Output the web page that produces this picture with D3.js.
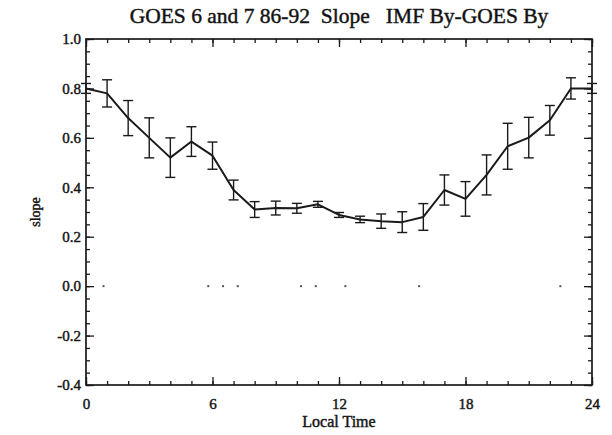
<!DOCTYPE html>
<html>
<head>
<meta charset="utf-8">
<script src="https://cdn.jsdelivr.net/npm/d3@7"></script>
<style>
  html, body { margin: 0; padding: 0; background: #fff; }
  svg { display: block; }
  text { font-family: "Liberation Serif", "DejaVu Serif", serif; fill: #111; }
</style>
</head>
<body>
<svg id="chart" width="612" height="435"></svg>
<script>
// Hourly slope of IMF By vs GOES By, with one-sigma error bars
const localTime = [0, 1, 2, 3, 4, 5, 6, 7, 8, 9, 10, 11, 12, 13, 14, 15, 16, 17, 18, 19, 20, 21, 22, 23, 24];
const slope = [0.80, 0.78, 0.68, 0.60, 0.52, 0.585, 0.528, 0.389, 0.31, 0.316, 0.315, 0.331, 0.288, 0.27, 0.263, 0.259, 0.28, 0.389, 0.353, 0.45, 0.566, 0.601, 0.671, 0.80, 0.80];
const slopeErr = [0.02, 0.055, 0.071, 0.081, 0.08, 0.06, 0.055, 0.04, 0.032, 0.028, 0.02, 0.012, 0.01, 0.013, 0.029, 0.042, 0.054, 0.061, 0.07, 0.081, 0.093, 0.082, 0.06, 0.043, 0.02];

// Isolated points plotted at zero slope
const zeroTimes = [0.83, 5.8, 6.5, 7.2, 10.2, 10.9, 12.3, 15.8, 22.5];
const zeroValues = [0, 0, 0, 0, 0, 0, 0, 0, 0];

const xMajorTicks = [0, 6, 12, 18, 24];
const yMajorTicks = [-0.4, -0.2, 0.0, 0.2, 0.4, 0.6, 0.8, 1.0];

const titleText = "GOES 6 and 7 86-92  Slope   IMF By-GOES By";
const xTitle = "Local Time";
const yTitle = "slope";

const svg = d3.select("#chart");
const m = { left: 86, right: 592, top: 39, bottom: 385 };

const x = d3.scaleLinear().domain([0, 24]).range([m.left, m.right]);
const y = d3.scaleLinear().domain([-0.4, 1.0]).range([m.bottom, m.top]);

const ink = "#1a1a1a";

// Plain hyphen for negative labels
const fmtY = d => d3.format(".1f")(d).replace("\u2212", "-");

// Minor ticks on all four sides
const xMinor = d3.range(0, 25, 1);
const yMinor = d3.range(-0.4, 1.0001, 0.05);

function axisGroup(axis, tx, ty) {
  const g = svg.append("g").attr("transform", `translate(${tx},${ty})`).call(axis);
  g.select(".domain").remove();
  g.selectAll("line").attr("stroke", ink).attr("stroke-width", 1.3);
  return g;
}

function heavyText(sel, size) {
  sel.attr("font-size", size)
    .attr("fill", ink)
    .attr("stroke", ink)
    .attr("stroke-width", 0.45)
    .style("font-family", "Liberation Serif");
}

// bottom
axisGroup(d3.axisBottom(x).tickValues(xMinor).tickSize(-4).tickFormat(""), 0, m.bottom);
const xb = axisGroup(d3.axisBottom(x).tickValues(xMajorTicks).tickSize(-8).tickPadding(13).tickFormat(d3.format("d")), 0, m.bottom);
heavyText(xb.selectAll("text"), 15);
// top
axisGroup(d3.axisTop(x).tickValues(xMinor).tickSize(-4).tickFormat(""), 0, m.top);
axisGroup(d3.axisTop(x).tickValues(xMajorTicks).tickSize(-8).tickFormat(""), 0, m.top);
// left
axisGroup(d3.axisLeft(y).tickValues(yMinor).tickSize(-4).tickFormat(""), m.left, 0);
const yl = axisGroup(d3.axisLeft(y).tickValues(yMajorTicks).tickSize(-8).tickPadding(5).tickFormat(fmtY), m.left, 0);
heavyText(yl.selectAll("text"), 15);
// right
axisGroup(d3.axisRight(y).tickValues(yMinor).tickSize(-4).tickFormat(""), m.right, 0);
axisGroup(d3.axisRight(y).tickValues(yMajorTicks).tickSize(-8).tickFormat(""), m.right, 0);

// Frame
svg.append("rect")
  .attr("x", m.left).attr("y", m.top)
  .attr("width", m.right - m.left).attr("height", m.bottom - m.top)
  .attr("fill", "none").attr("stroke", ink).attr("stroke-width", 1.7);

// Error bars
const capHalf = 5;
const eb = svg.append("g").attr("stroke", ink).attr("stroke-width", 1.4).attr("fill", "none");
localTime.forEach((t, i) => {
  const lo = y(slope[i] - slopeErr[i]);
  const hi = y(slope[i] + slopeErr[i]);
  const cx = x(t);
  eb.append("line").attr("x1", cx).attr("x2", cx).attr("y1", lo).attr("y2", hi);
  eb.append("line").attr("x1", cx - capHalf).attr("x2", cx + capHalf).attr("y1", lo).attr("y2", lo);
  eb.append("line").attr("x1", cx - capHalf).attr("x2", cx + capHalf).attr("y1", hi).attr("y2", hi);
});

// Mean slope curve
const line = d3.line().x((d, i) => x(localTime[i])).y(d => y(d));
svg.append("path")
  .datum(slope)
  .attr("d", line)
  .attr("fill", "none")
  .attr("stroke", ink)
  .attr("stroke-width", 2)
  .attr("stroke-linejoin", "round");

// Zero-slope dots
svg.append("g").selectAll("rect")
  .data(zeroTimes)
  .join("rect")
  .attr("x", d => x(d) - 1)
  .attr("y", (d, i) => y(zeroValues[i]) - 1)
  .attr("width", 2).attr("height", 2)
  .attr("fill", "#555");

// Titles
const title = svg.append("text")
  .attr("x", (m.left + m.right) / 2).attr("y", 23)
  .attr("text-anchor", "middle")
  .style("white-space", "pre")
  .text(titleText);
heavyText(title, 21.5);

const xt = svg.append("text")
  .attr("x", (m.left + m.right) / 2).attr("y", 427)
  .attr("text-anchor", "middle")
  .text(xTitle);
heavyText(xt, 16);

const yt = svg.append("text")
  .attr("transform", `translate(40,${y(0.3)}) rotate(-90)`)
  .attr("text-anchor", "middle")
  .text(yTitle);
heavyText(yt, 14);
</script>
</body>
</html>
